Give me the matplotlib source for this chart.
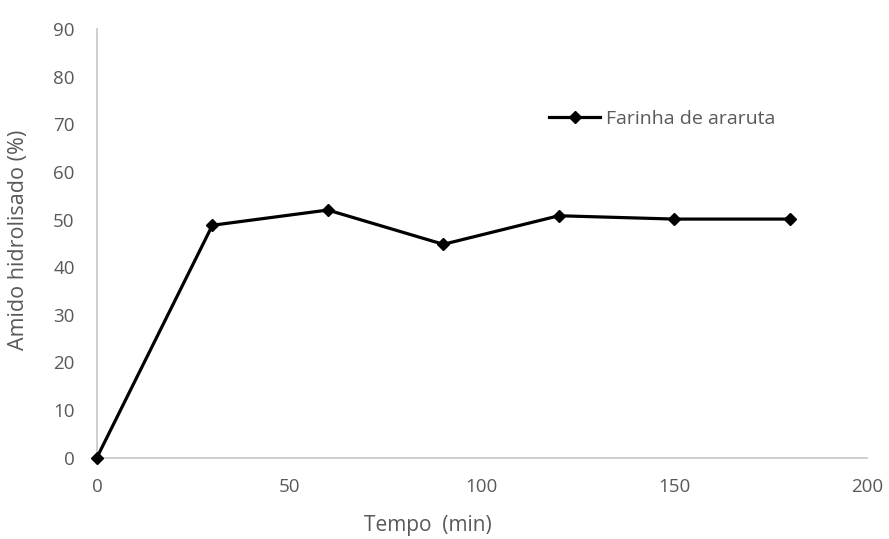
import matplotlib
matplotlib.use("Agg")
import matplotlib.pyplot as plt

# hidrólise do amido ao longo do tempo
tempo = [0, 30, 60, 90, 120, 150, 180]
amido = [0, 48.8, 52.0, 44.8, 50.8, 50.1, 50.1]

plt.rcParams['font.family'] = ['Open Sans', 'DejaVu Sans']
cinza = '#595959'

fig = plt.figure(figsize=(8.89, 5.39), dpi=100)
ax = fig.add_axes([0.109, 0.151, 0.866, 0.795])

ax.plot(tempo, amido, color='black', lw=2.3, marker='D', ms=6,
        label='Farinha de araruta', clip_on=False, zorder=3)

ax.set_xlim(0, 200)
ax.set_ylim(0, 90)
ax.set_xticks([0, 50, 100, 150, 200])
ax.set_yticks(range(0, 91, 10))
ax.tick_params(length=0, colors=cinza, labelsize=13.5)
ax.tick_params(axis='y', pad=16)
ax.tick_params(axis='x', pad=15)

for s in ['top', 'right']:
    ax.spines[s].set_visible(False)
for s in ['left', 'bottom']:
    ax.spines[s].set_color('#c6c6c6')
    ax.spines[s].set_linewidth(1.2)

ax.set_xlabel('Tempo  (min)', color=cinza, fontsize=15)
ax.xaxis.set_label_coords(0.43, -0.135)
ax.set_ylabel('Amido hidrolisado (%)', color=cinza, fontsize=15.5)
ax.yaxis.set_label_coords(-0.088, 0.508)

leg = ax.legend(loc='center left', bbox_to_anchor=(0.565, 0.79), frameon=False,
                fontsize=14, handlelength=2.6, handletextpad=0.3)
for t in leg.get_texts():
    t.set_color(cinza)

fig.savefig('out.png', dpi=100)
